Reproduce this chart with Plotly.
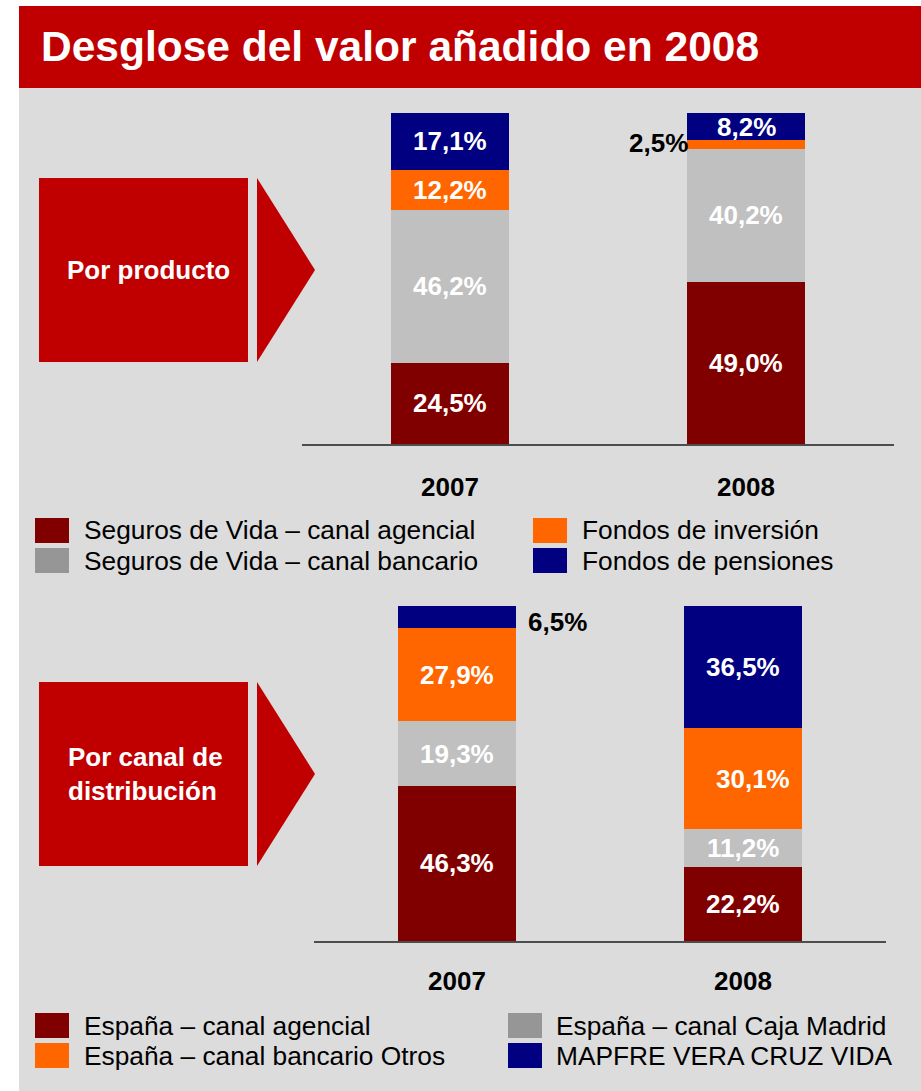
import plotly.graph_objects as go

W, H = 921, 1091
FONT = "Liberation Sans, Arial, sans-serif"

years = ["2007", "2008"]

# Por producto
prod_series = ["Seguros de Vida – canal agencial", "Seguros de Vida – canal bancario",
               "Fondos de inversión", "Fondos de pensiones"]
prod_2007 = [24.5, 46.2, 12.2, 17.1]
prod_2008 = [49.0, 40.2, 2.5, 8.2]

# Por canal de distribución
canal_series = ["España – canal agencial", "España – canal Caja Madrid",
                "España – canal bancario Otros", "MAPFRE VERA CRUZ VIDA"]
canal_2007 = [46.3, 19.3, 27.9, 6.5]
canal_2008 = [22.2, 11.2, 30.1, 36.5]

bar_colors = ["#800000", "#C0C0C0", "#FF6600", "#000080"]
swatch_colors = ["#800000", "#969696", "#FF6600", "#000080"]


def px(x):
    return x / W


def py(y):
    return 1 - y / H


def fmt(v):
    return f"{v:.1f}".replace(".", ",") + "%"


fig = go.Figure()
shapes = []
annotations = []

# fondo gris y barra de título
shapes.append(dict(type="rect", xref="paper", yref="paper", x0=px(19), x1=1,
                   y0=0, y1=py(88), fillcolor="#DCDCDC", line_width=0, layer="below"))
shapes.append(dict(type="rect", xref="paper", yref="paper", x0=px(19), x1=1,
                   y0=py(88), y1=py(6), fillcolor="#C00000", line_width=0, layer="below"))
annotations.append(dict(text="<b>Desglose del valor añadido en 2008</b>", xref="paper", yref="paper",
                        x=px(39), y=py(47), xanchor="left", yanchor="middle", showarrow=False,
                        font=dict(family=FONT, size=42.5, color="white")))


def arrow(top, label, centered=True):
    bot = top + 184
    shapes.append(dict(type="rect", xref="paper", yref="paper", x0=px(39), x1=px(248),
                       y0=py(bot), y1=py(top), fillcolor="#C00000", line_width=0, layer="below"))
    mid = (top + bot) / 2
    shapes.append(dict(type="path", xref="paper", yref="paper",
                       path=f"M {px(257)} {py(top)} L {px(315)} {py(mid)} L {px(257)} {py(bot)} Z",
                       fillcolor="#C00000", line_width=0, layer="below"))
    annotations.append(dict(text=label, xref="paper", yref="paper",
                            x=px(148) if centered else px(66), y=py(mid),
                            xanchor="center" if centered else "left", yanchor="middle",
                            align="center" if centered else "left", showarrow=False,
                            font=dict(family=FONT, size=26, color="white")))


arrow(178, "<b>Por producto</b>")
arrow(682, "<b>Por canal de<br>distribución</b>", centered=False)


def panel(n, vals07, vals08, series, width, outside):
    xa = "x" if n == 1 else "x2"
    ya = "y" if n == 1 else "y2"
    for i, name in enumerate(series):
        fig.add_trace(go.Bar(x=years, y=[vals07[i], vals08[i]], name=name, width=width,
                             marker=dict(color=bar_colors[i], line_width=0),
                             xaxis=xa, yaxis=ya, showlegend=False, hoverinfo="skip"))
    for j, (yr, vals) in enumerate(zip(years, [vals07, vals08])):
        base = 0
        for i, v in enumerate(vals):
            a = dict(text=f"<b>{fmt(v)}</b>", xref=xa, yref=ya, x=j, y=base + v / 2,
                     showarrow=False, yanchor="middle",
                     font=dict(family=FONT, size=26, color="white"))
            if (yr, i) in outside:
                side, xs, ys = outside[(yr, i)]
                a.update(xanchor=side, xshift=xs, yshift=ys,
                         font=dict(family=FONT, size=26, color="black"))
            annotations.append(a)
            base += v
        annotations.append(dict(text=f"<b>{yr}</b>", xref=xa, yref="paper", x=j,
                                y=py(487 if n == 1 else 981), yanchor="middle", showarrow=False,
                                font=dict(family=FONT, size=26, color="black")))


panel(1, prod_2007, prod_2008, prod_series, 0.40,
      {("2008", 2): ("right", -56, 2)})
panel(2, canal_2007, canal_2008, canal_series, 0.41,
      {("2007", 3): ("left", 69, -5)})
# etiqueta 30,1% ligeramente desplazada a la derecha en el original
for a in annotations:
    if a.get("text") == "<b>30,1%</b>":
        a["xshift"] = 10


def legend(series, order, col_x, text_x, row_y, h):
    for col, idxs in enumerate(order):
        for row, i in enumerate(idxs):
            y0 = row_y[row]
            shapes.append(dict(type="rect", xref="paper", yref="paper",
                               x0=px(col_x[col]), x1=px(col_x[col] + 34),
                               y0=py(y0 + h), y1=py(y0), fillcolor=swatch_colors[i],
                               line_width=0, layer="below"))
            annotations.append(dict(text=series[i], xref="paper", yref="paper",
                                    x=px(text_x[col]), y=py(y0 + h / 2), xanchor="left",
                                    yanchor="middle", showarrow=False,
                                    font=dict(family=FONT, size=26.3, color="black")))


legend(prod_series, [[0, 1], [2, 3]], [35, 533], [82, 580], [518, 548], 25)
legend(canal_series, [[0, 2], [1, 3]], [35, 508], [82, 554], [1013, 1043], 25)

axis_common = dict(type="category", range=[-0.5, 1.5], showticklabels=False, showgrid=False,
                   zeroline=False, showline=True, linecolor="#4D4D4D", linewidth=2, fixedrange=True)
y_common = dict(range=[0, 100], visible=False, fixedrange=True)

fig.update_layout(
    width=W, height=H,
    margin=dict(l=0, r=0, t=0, b=0),
    paper_bgcolor="white",
    plot_bgcolor="rgba(0,0,0,0)",
    barmode="stack",
    xaxis=dict(axis_common, domain=[px(302), px(894)], anchor="y"),
    yaxis=dict(y_common, domain=[py(444), py(113)], anchor="x"),
    xaxis2=dict(axis_common, domain=[px(314), px(886)], anchor="y2"),
    yaxis2=dict(y_common, domain=[py(941), py(606)], anchor="x2"),
    shapes=shapes,
    annotations=annotations,
    showlegend=False,
)

# sin margen del cuerpo de la página, la figura ocupa toda la ventana
fig.write_html("out.html", config={"displayModeBar": False},
               post_script="document.body.style.margin='0';")
